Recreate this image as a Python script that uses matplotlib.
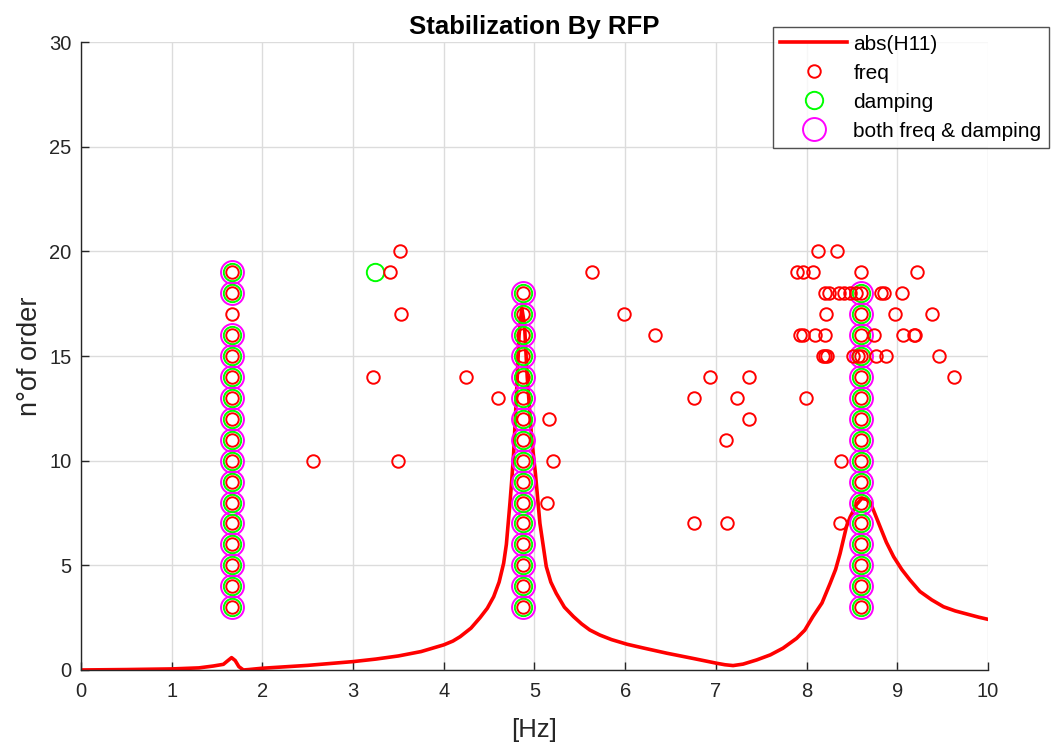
import matplotlib
matplotlib.use("Agg")
import matplotlib.pyplot as plt
from matplotlib.lines import Line2D

plt.rcParams['font.family'] = ['Liberation Sans', 'DejaVu Sans']

# Frequency response magnitude |H11| (scaled to the order axis)
frf_hz = [0.0, 0.5, 1.0, 1.3, 1.46, 1.57, 1.62, 1.66, 1.70, 1.74, 1.79, 1.85,
          1.99, 2.5, 3.0, 3.25, 3.5, 3.75, 4.0, 4.1, 4.18, 4.30, 4.40, 4.48,
          4.55, 4.61, 4.66, 4.69, 4.71, 4.73, 4.75, 4.77, 4.80, 4.83, 4.86,
          4.89, 4.92, 4.97, 5.01, 5.06, 5.13, 5.18, 5.24, 5.33, 5.43, 5.52,
          5.61, 5.72, 5.85, 6.02, 6.2, 6.46, 6.75, 7.01, 7.1, 7.19, 7.3,
          7.45, 7.6, 7.74, 7.89, 7.98, 8.07, 8.17, 8.26, 8.32, 8.37, 8.44,
          8.48, 8.55, 8.61, 8.66, 8.70, 8.75, 8.81, 8.88, 8.96, 9.05, 9.14,
          9.25, 9.38, 9.51, 9.64, 9.77, 9.9, 10.0]
frf_amp = [0.0, 0.02, 0.05, 0.1, 0.19, 0.27, 0.45, 0.59, 0.45, 0.16, 0.0, 0.02,
           0.08, 0.22, 0.4, 0.52, 0.67, 0.88, 1.2, 1.38, 1.59, 2.0, 2.5, 2.95,
           3.5, 4.2, 5.1, 6.0, 7.0, 8.0, 9.1, 10.35, 13.0, 16.0, 17.3,
           16.5, 14.0, 11.0, 9.4, 7.0, 4.94, 4.2, 3.66, 3.0, 2.55, 2.2,
           1.91, 1.67, 1.45, 1.23, 1.05, 0.8, 0.55, 0.32, 0.25, 0.21, 0.28,
           0.48, 0.72, 1.04, 1.51, 1.9, 2.55, 3.2, 4.14, 4.8, 5.57, 6.85,
           7.3, 7.9, 8.2, 8.15, 8.04, 7.5, 6.85, 6.1, 5.41, 4.8, 4.3,
           3.75, 3.35, 3.02, 2.82, 2.67, 2.52, 2.42]

# Stable poles (frequency and damping both converged), per column
mode1_hz = 1.66
mode1_orders = [3, 4, 5, 6, 7, 8, 9, 10, 11, 12, 13, 14, 15, 16, 18, 19]
mode2_hz = 4.87
mode2_orders = [3, 4, 5, 6, 7, 8, 9, 10, 11, 12, 13, 14, 15, 16, 17, 18]
mode3_hz = 8.596
mode3_orders = [3, 4, 5, 6, 7, 8, 9, 10, 11, 12, 13, 14, 15, 16, 17, 18]

# Poles stable in frequency only
freq_only_hz = [1.66, 8.596,
                3.52, 8.13, 8.34,
                3.41, 5.63, 7.90, 7.96, 8.07, 9.22,
                8.20, 8.25, 8.36, 8.41, 8.48, 8.55, 8.82, 8.85, 9.05,
                3.53, 5.99, 8.21, 8.98, 9.38,
                6.33, 7.93, 7.96, 8.09, 8.20, 8.74, 9.06, 9.18, 9.20,
                8.18, 8.20, 8.22, 8.51, 8.57, 8.77, 8.88, 9.46,
                3.22, 4.24, 6.94, 7.37, 9.63,
                4.60, 6.76, 7.23, 7.99,
                5.16, 7.37,
                7.11,
                2.56, 3.50, 5.20, 8.38,
                5.14,
                6.76, 7.12, 8.37]
freq_only_order = [17, 19,
                   20, 20, 20,
                   19, 19, 19, 19, 19, 19,
                   18, 18, 18, 18, 18, 18, 18, 18, 18,
                   17, 17, 17, 17, 17,
                   16, 16, 16, 16, 16, 16, 16, 16, 16,
                   15, 15, 15, 15, 15, 15, 15, 15,
                   14, 14, 14, 14, 14,
                   13, 13, 13, 13,
                   12, 12,
                   11,
                   10, 10, 10, 10,
                   8,
                   7, 7, 7]

# Poles stable in damping only
damp_only_hz = [3.24]
damp_only_order = [19]

both_hz = ([mode1_hz] * len(mode1_orders) + [mode2_hz] * len(mode2_orders)
           + [mode3_hz] * len(mode3_orders))
both_order = mode1_orders + mode2_orders + mode3_orders

freq_hz = freq_only_hz + both_hz
freq_order = freq_only_order + both_order
damp_hz = damp_only_hz + both_hz
damp_order = damp_only_order + both_order

fig = plt.figure(figsize=(10.51, 7.44), dpi=100)
ax = fig.add_axes([0.0771, 0.0995, 0.8629, 0.844])

ax.plot(frf_hz, frf_amp, color='#ff0000', lw=2.6, zorder=2,
        solid_joinstyle='round')
ax.plot(freq_hz, freq_order, ls='none', marker='o', ms=9, mfc='none',
        mec='#ff0000', mew=1.4, zorder=5)
ax.plot(damp_hz, damp_order, ls='none', marker='o', ms=12.5, mfc='none',
        mec='#00ff00', mew=1.4, zorder=4)
ax.plot(both_hz, both_order, ls='none', marker='o', ms=16.5, mfc='none',
        mec='#ff00ff', mew=1.4, zorder=3)

ax.set_xlim(0, 10)
ax.set_ylim(0, 30)
ax.set_xticks(range(0, 11))
ax.set_yticks(range(0, 31, 5))
ax.grid(True, color='#dcdcdc', lw=1.0)
ax.set_axisbelow(True)
for side in ('top', 'right'):
    ax.spines[side].set_visible(False)
for side in ('left', 'bottom'):
    ax.spines[side].set_color('#262626')
    ax.spines[side].set_linewidth(1.0)
ax.tick_params(direction='in', length=6, width=1.0, color='#262626',
               labelsize=14.5, labelcolor='#262626', pad=7)
ax.tick_params(axis='x', pad=9)

ax.set_xlabel('[Hz]', fontsize=18.5, color='#262626', labelpad=12)
ax.set_ylabel('n°of order', fontsize=19.5, color='#262626', labelpad=4)
ax.set_title('Stabilization By RFP', fontsize=18.5, fontweight='bold',
             pad=6)

handles = [
    Line2D([], [], color='#ff0000', lw=2.6),
    Line2D([], [], ls='none', marker='o', ms=9, mfc='none', mec='#ff0000', mew=1.4),
    Line2D([], [], ls='none', marker='o', ms=12.5, mfc='none', mec='#00ff00', mew=1.4),
    Line2D([], [], ls='none', marker='o', ms=16.5, mfc='none', mec='#ff00ff', mew=1.4),
]
labels = ['abs(H11)', 'freq', 'damping', 'both freq & damping']
leg = fig.legend(handles, labels, loc='upper right',
                 bbox_to_anchor=(0.998, 0.9637), fontsize=15,
                 frameon=True, fancybox=False, edgecolor='#262626',
                 handlelength=3.2, handletextpad=0.3, labelspacing=0.48,
                 borderpad=0.36, borderaxespad=0.0)
leg.get_frame().set_linewidth(1.0)

fig.savefig('out.png', dpi=100)
